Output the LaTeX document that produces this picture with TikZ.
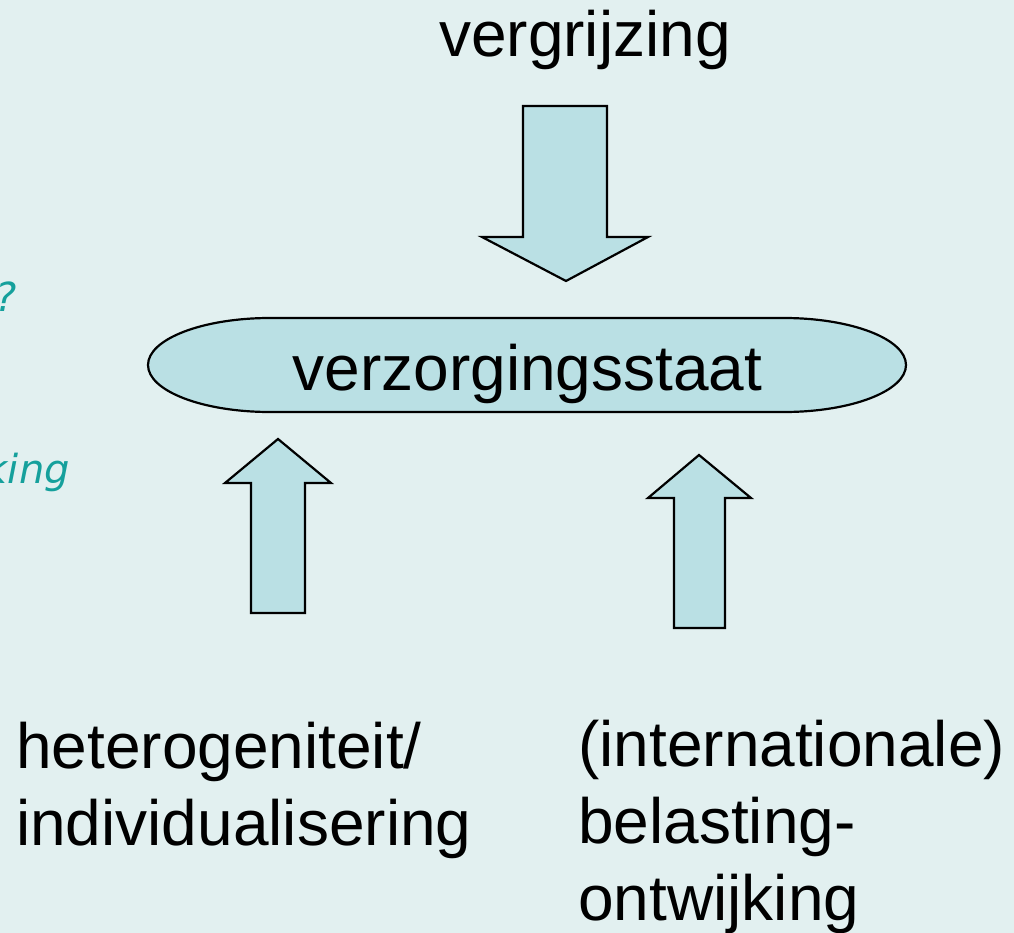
\documentclass[tikz,border=0pt]{standalone}
\usepackage{fontspec}
\setmainfont{Liberation Sans}
\newfontfamily\notefont{DejaVu Sans}
\definecolor{bgc}{HTML}{E2F0F0}
\definecolor{fillc}{HTML}{BAE0E4}
\definecolor{tealc}{HTML}{15A09C}
\begin{document}
\begin{tikzpicture}[x=1pt,y=-1pt,
  blockshape/.style={draw=black,fill=fillc,line width=2.2pt,line join=miter},
  bigtext/.style={font=\fontsize{64}{77}\selectfont,inner sep=0pt,align=left},
  notetext/.style={font=\notefont\itshape\fontsize{40}{48}\selectfont,text=tealc,inner sep=0pt}]
\fill[bgc] (0,0) rectangle (1014,933);
\useasboundingbox (0,0) rectangle (1014,933);
% terminator shape
\draw[blockshape] (270,318) -- (784,318) arc(90:-90:122pt and 47pt) -- (270,412) arc(270:90:122pt and 47pt) -- cycle;
\node[bigtext,anchor=base] (staat) at (527.5,390) {verzorgingsstaat};
% down arrow
\draw[blockshape] (523,106) -- (607,106) -- (607,237) -- (648,237) -- (566,281) -- (482,237) -- (523,237) -- cycle;
% left up arrow
\draw[blockshape] (251,613) -- (305,613) -- (305,483) -- (331,483) -- (278,439) -- (225,483) -- (251,483) -- cycle;
% right up arrow
\draw[blockshape] (674,628) -- (725,628) -- (725,498) -- (751,498) -- (699,455) -- (648,498) -- (674,498) -- cycle;
% texts
\node[bigtext,anchor=base] (vergr) at (585,57) {vergrijzing};
\node[bigtext,anchor=base west] (hetero) at (16,845) {heterogeniteit/\\individualisering};
\node[bigtext,anchor=base west] (inter) at (578,920) {(internationale)\\belasting-\\ontwijking};
\node[notetext,anchor=base east] (q) at (17,311) {?};
\node[notetext,anchor=base east] (king) at (70,483) {king};
\end{tikzpicture}
\end{document}
